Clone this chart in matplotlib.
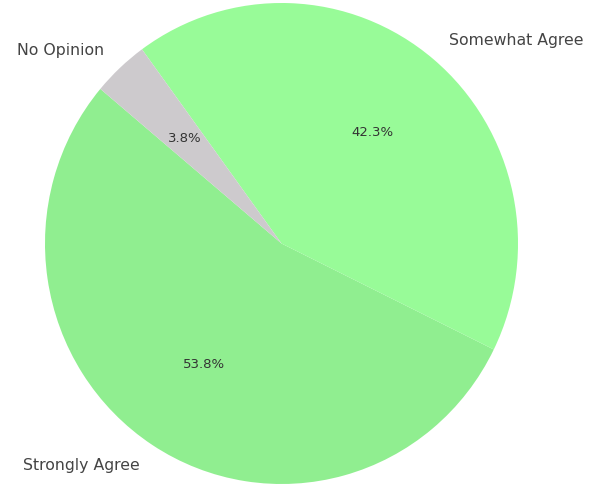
import matplotlib
matplotlib.use("Agg")
import matplotlib.pyplot as plt

labels = ["Strongly Agree", "Somewhat Agree", "No Opinion"]
values = [14, 11, 1]
colors = ["#90EE90", "#98FB98", "#CDCACD"]

fig = plt.figure(figsize=(5.92, 4.87), dpi=100)
ax = fig.add_axes([0, 0, 1, 1])
wedges, texts, autotexts = ax.pie(values, labels=labels, colors=colors,
                                  autopct="%1.1f%%", startangle=140,
                                  textprops={"fontsize": 11.3, "color": "#444444"})
for t in autotexts:
    t.set_fontsize(9.5)
    t.set_color("#333333")
rx, ry = 236.5, 240.5
ax.set_xlim(-281.5 / rx, 310.5 / rx)
ax.set_ylim(-243.5 / ry, 243.5 / ry)
ax.set_aspect("auto")
ax.axis("off")
fig.savefig("out.png", dpi=100)
